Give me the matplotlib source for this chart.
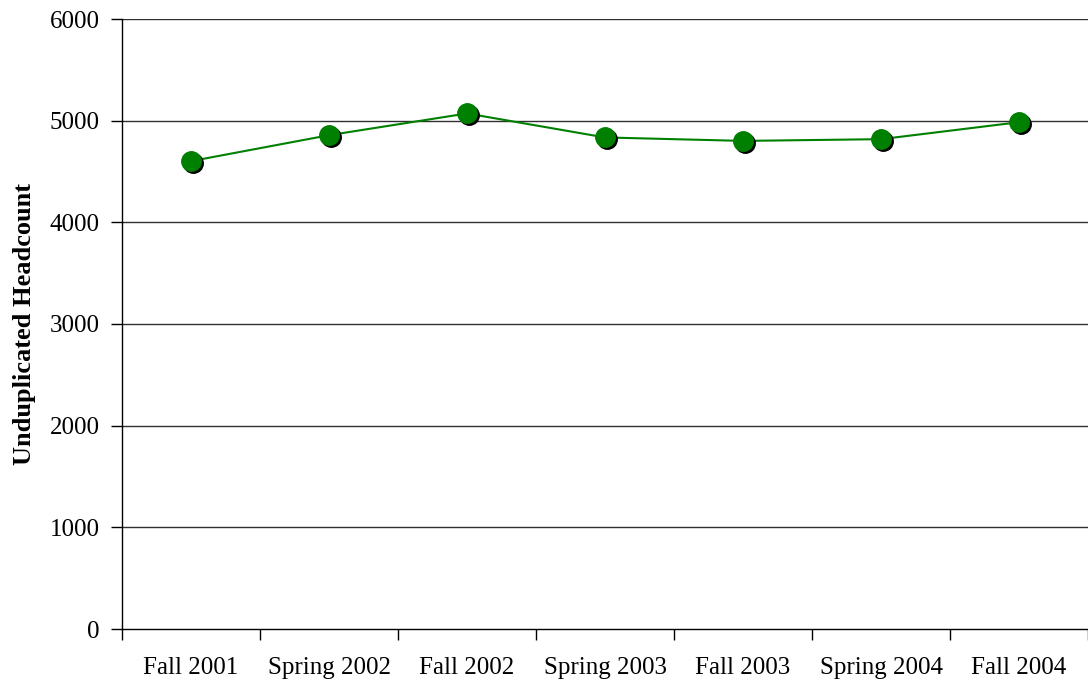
import numpy as np
import matplotlib
matplotlib.use("Agg")
import matplotlib.pyplot as plt
from matplotlib.transforms import ScaledTranslation

terms = ["Fall 2001", "Spring 2002", "Fall 2002", "Spring 2003",
         "Fall 2003", "Spring 2004", "Fall 2004"]
headcount = [4602, 4857, 5071, 4835, 4801, 4818, 4985]
y_ticks = [0, 1000, 2000, 3000, 4000, 5000, 6000]

plt.rcParams["font.family"] = ["Liberation Serif", "DejaVu Serif"]

fig = plt.figure(figsize=(10.88, 6.92), dpi=100)
ax = fig.add_axes([122 / 1088, 1 - 629 / 692, 1 - 122 / 1088, (629 - 19) / 692])

x = np.arange(len(terms))

# linea y marcadores con sombra
ax.plot(x, headcount, color="#008000", lw=1.5, zorder=3)
sombra = ax.transData + ScaledTranslation(2 / 100, -2 / 100, fig.dpi_scale_trans)
ax.plot(x, headcount, ls="none", marker="o", ms=14, color="black",
        mec="black", transform=sombra, zorder=4)
ax.plot(x, headcount, ls="none", marker="o", ms=14, color="#008000",
        mec="#008000", zorder=5)

ax.set_xlim(-0.5, len(terms) - 0.5)
ax.set_ylim(0, 6000)
ax.set_yticks(y_ticks)
ax.set_yticklabels([str(v) for v in y_ticks], fontsize=18)
for v in y_ticks[1:]:
    ax.axhline(v, color="#303030", lw=1, zorder=1)

ax.set_xticks(x)
ax.set_xticklabels(terms, fontsize=18)
ax.set_xticks(np.arange(-0.5, len(terms)), minor=True)
ax.tick_params(axis="x", which="major", length=0, pad=20)
ax.tick_params(axis="x", which="minor", length=8, width=1, color="black")
ax.tick_params(axis="y", length=8, width=1, color="black", pad=8)

for s in ["top", "right"]:
    ax.spines[s].set_visible(False)
ax.spines["left"].set_linewidth(1)
ax.spines["bottom"].set_linewidth(1)

ax.set_ylabel("Unduplicated Headcount", fontsize=19, fontweight="bold", labelpad=10)

plt.savefig("out.png", dpi=100)
